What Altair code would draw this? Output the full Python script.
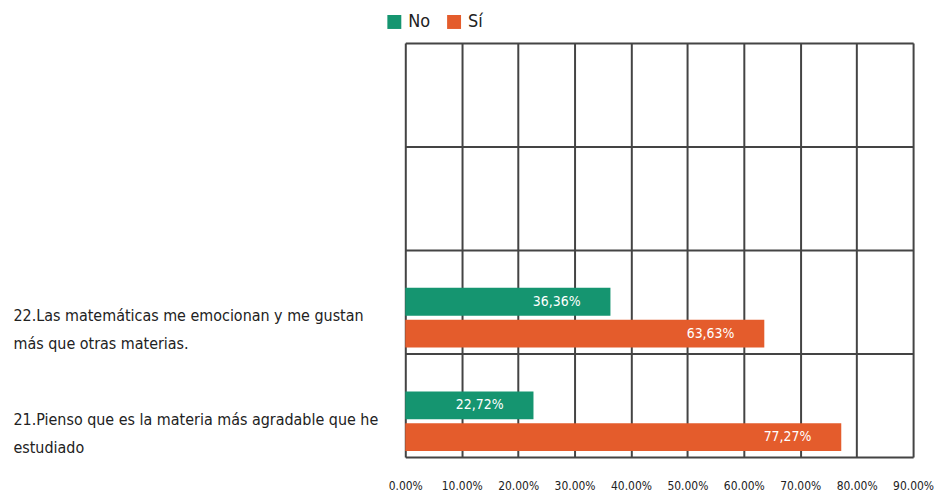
import altair as alt
import pandas as pd

categories = ["22", "21"]
category_keys = ["c24", "c23", "22", "21"]
category_labels = {
    "c24": [""],
    "c23": [""],
    "22": ["22.Las matemáticas me emocionan y me gustan", "más que otras materias."],
    "21": ["21.Pienso que es la materia más agradable que he", "estudiado"],
}
series = ["No", "Sí"]
values_no = [36.36, 22.72]
values_si = [63.63, 77.27]
x_ticks = [0, 10, 20, 30, 40, 50, 60, 70, 80, 90]
colors = ["#159570", "#E45C2C"]

rows = []
for i, c in enumerate(categories):
    for s, vals in zip(series, [values_no, values_si]):
        v = vals[i]
        rows.append({"cat": c, "serie": s, "value": v,
                     "label": f"{v:.2f}".replace(".", ",") + "%"})
df = pd.DataFrame(rows)

label_map = "{" + ",".join(
    f"'{k}': [" + ",".join(f"'{l}'" for l in v) + "]" for k, v in category_labels.items()
) + "}"

FONT = "DejaVu Sans Condensed, Liberation Sans Narrow, Roboto, sans-serif"
GRID = "#444444"

y_enc = alt.Y("cat:N", sort=category_keys,
              scale=alt.Scale(domain=category_keys, paddingInner=0, paddingOuter=0),
              axis=alt.Axis(title=None, labelAlign="left", labelPadding=394,
                            labelExpr=f"{label_map}[datum.value]",
                            labelOffset=14, labelFontSize=16, labelFont=FONT,
                            labelColor="#222222", labelLineHeight=28, labelLimit=420,
                            ticks=False, domain=False, grid=True, tickBand="extent",
                            gridColor=GRID, gridWidth=2, gridOpacity=1))
yoff_enc = alt.YOffset("serie:N", scale=alt.Scale(domain=["_", "No", "Sí"],
                                                  paddingInner=0.125, paddingOuter=0.19))
x_enc = alt.X("value:Q", scale=alt.Scale(domain=[0, 90], nice=False),
              axis=alt.Axis(title=None, values=x_ticks,
                            labelExpr="format(datum.value, '.2f') + '%'",
                            labelFontSize=12, labelFont=FONT, labelColor="#222222",
                            labelPadding=24, labelOverlap=False, labelFlush=False,
                            ticks=False, domain=False,
                            grid=True, gridColor=GRID, gridWidth=2, gridOpacity=1))

bars = alt.Chart(df).mark_bar(cornerRadius=0).encode(
    x=x_enc, y=y_enc, yOffset=yoff_enc,
    color=alt.Color("serie:N", scale=alt.Scale(domain=series, range=colors),
                    legend=alt.Legend(title=None, orient="none", direction="horizontal",
                                      legendX=-20, legendY=-30, symbolType="square",
                                      symbolSize=196, symbolStrokeWidth=0,
                                      labelFontSize=18, labelFont=FONT,
                                      labelColor="#222222", columnPadding=14,
                                      labelOffset=5, padding=0)),
)
texts = alt.Chart(df).mark_text(align="right", dx=-30, color="white",
                                fontSize=14, font=FONT).encode(
    x="value:Q", y=alt.Y("cat:N", sort=category_keys), yOffset=yoff_enc, text="label:N")

chart = (bars + texts).properties(
    width=510, height=416,
    padding={"top": 4, "left": 5, "right": 0, "bottom": 0},
).configure_view(stroke=GRID, strokeWidth=2).configure(background="white")

chart.save("out.html", embed_options={"renderer": "svg", "actions": False})
